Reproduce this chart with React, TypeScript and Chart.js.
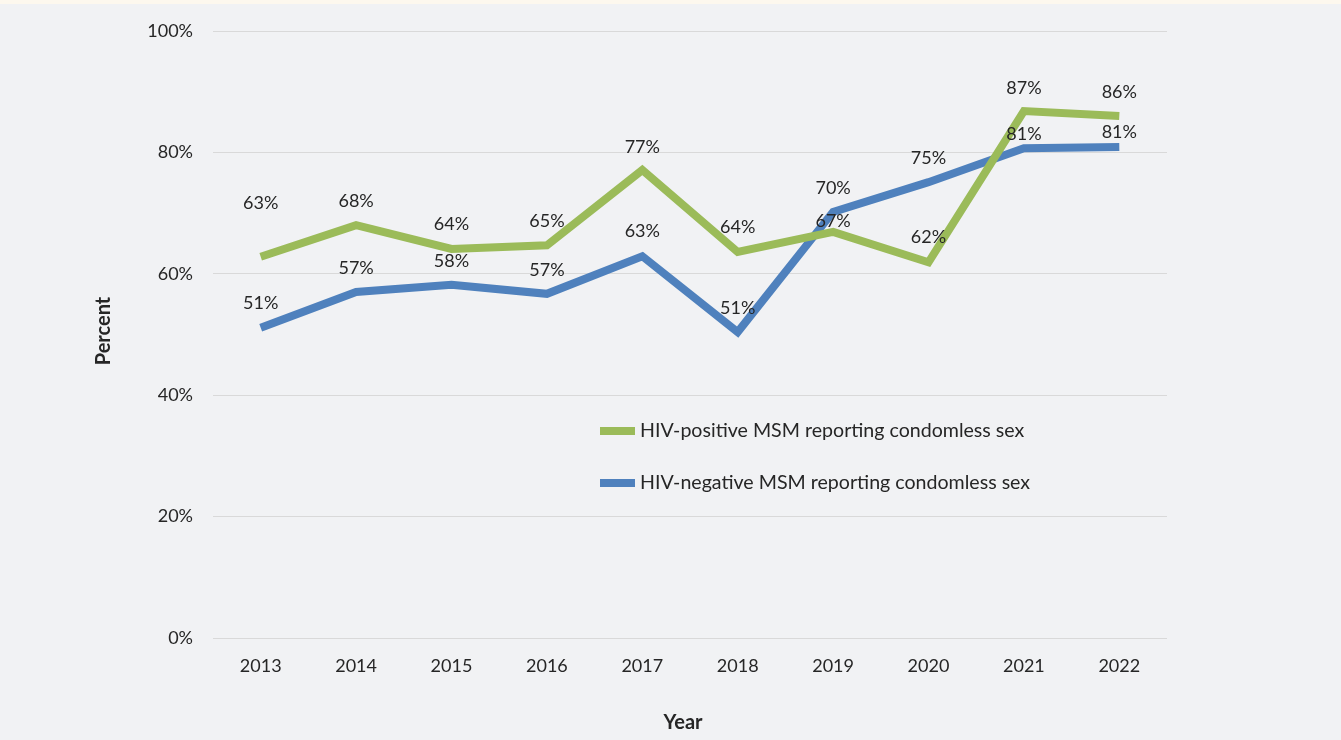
import React, { useEffect, useRef } from "react";
import { Chart, registerables } from "chart.js";

Chart.register(...registerables);

const years = ["2013", "2014", "2015", "2016", "2017", "2018", "2019", "2020", "2021", "2022"];
const positiveValues = [62.8, 68.0, 64.1, 64.7, 77.1, 63.6, 66.9, 61.9, 86.8, 86.0];
const negativeValues = [51.1, 57.0, 58.2, 56.7, 62.9, 50.4, 70.2, 75.1, 80.7, 80.9];
const positiveLabels = ["63%", "68%", "64%", "65%", "77%", "64%", "67%", "62%", "87%", "86%"];
const negativeLabels = ["51%", "57%", "58%", "57%", "63%", "51%", "70%", "75%", "81%", "81%"];
const positiveLabelLift = [54, 24, 25, 24, 23, 25, 11, 25, 23, 24];
const negativeLabelLift = [25, 24, 24, 24, 25, 24, 24, 24, 14, 15];
const seriesNames = [
  "HIV-positive MSM reporting condomless sex",
  "HIV-negative MSM reporting condomless sex",
];
const yTicks = [0, 20, 40, 60, 80, 100];

const GREEN = "#9bbb59";
const BLUE = "#4f81bd";
const TEXT = "#262626";
const FONT = "Lato, 'Open Sans', sans-serif";

const overlayPlugin = {
  id: "overlay",
  afterDatasetsDraw(chart: any) {
    const ctx = chart.ctx;
    const area = chart.chartArea;
    ctx.save();
    // data labels
    ctx.font = `18px ${FONT}`;
    ctx.fillStyle = TEXT;
    ctx.textAlign = "center";
    ctx.textBaseline = "middle";
    const sets = [
      { idx: 0, labels: positiveLabels, lift: positiveLabelLift },
      { idx: 1, labels: negativeLabels, lift: negativeLabelLift },
    ];
    sets.forEach((s) => {
      const meta = chart.getDatasetMeta(s.idx);
      meta.data.forEach((pt: any, i: number) => {
        ctx.fillText(s.labels[i], pt.x, pt.y - s.lift[i]);
      });
    });
    // legend
    const legendX = area.left + 387;
    const legendYs = [area.top + 400, area.top + 452];
    const colors = [GREEN, BLUE];
    ctx.textAlign = "left";
    ctx.font = `19.6px ${FONT}`;
    seriesNames.forEach((name, i) => {
      ctx.fillStyle = colors[i];
      ctx.fillRect(legendX, legendYs[i] - 4, 35, 8);
      ctx.fillStyle = TEXT;
      ctx.fillText(name, legendX + 40, legendYs[i]);
    });
    // axis titles
    ctx.font = `bold 20px ${FONT}`;
    ctx.textAlign = "center";
    ctx.fillText("Year", (area.left + area.right) / 2 - 7, 723);
    ctx.translate(104, 331);
    ctx.rotate(-Math.PI / 2);
    ctx.fillText("Percent", 0, 0);
    ctx.restore();
  },
};

export default function App() {
  const ref = useRef<HTMLCanvasElement | null>(null);
  useEffect(() => {
    document.body.style.margin = "0";
    const canvas = ref.current;
    if (!canvas) return;
    const chart = new Chart(canvas, {
      type: "line",
      data: {
        labels: years,
        datasets: [
          {
            label: seriesNames[0],
            data: positiveValues,
            borderColor: GREEN,
            backgroundColor: GREEN,
            borderWidth: 8,
            pointRadius: 0,
            tension: 0,
          },
          {
            label: seriesNames[1],
            data: negativeValues,
            borderColor: BLUE,
            backgroundColor: BLUE,
            borderWidth: 8,
            pointRadius: 0,
            tension: 0,
          },
        ],
      },
      options: {
        responsive: false,
        animation: false,
        layout: { padding: { top: 31, right: 174, left: 0, bottom: 0 } },
        plugins: {
          legend: { display: false },
          tooltip: { enabled: false },
        },
        scales: {
          x: {
            offset: true,
            grid: { display: false, drawTicks: false },
            border: { display: false },
            ticks: { color: TEXT, font: { family: FONT, size: 18 }, padding: 17 },
            afterFit(scale: any) {
              scale.height = 102;
            },
          },
          y: {
            min: 0,
            max: 100,
            afterBuildTicks(scale: any) {
              scale.ticks = yTicks.map((v) => ({ value: v }));
            },
            grid: { color: "#d9d9d9", lineWidth: 1, drawTicks: false },
            border: { display: false },
            ticks: {
              color: TEXT,
              font: { family: FONT, size: 18 },
              padding: 20,
              callback: (v: any) => `${v}%`,
            },
            afterFit(scale: any) {
              scale.width = 213;
            },
          },
        },
      },
      plugins: [overlayPlugin],
    });
    return () => chart.destroy();
  }, []);
  return (
    <div
      style={{
        position: "absolute",
        left: 0,
        top: 0,
        width: 1341,
        height: 740,
        background: "#f1f2f4",
      }}
    >
      <div style={{ position: "absolute", left: 0, top: 0, width: 1341, height: 4, background: "#fdf8ee" }} />
      <canvas ref={ref} width={1341} height={740} style={{ display: "block" }} />
    </div>
  );
}
